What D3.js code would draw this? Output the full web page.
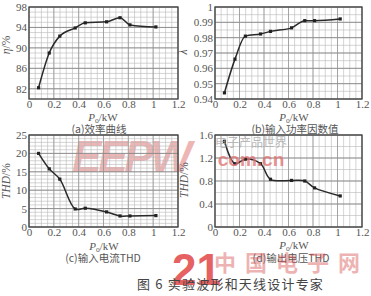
<!DOCTYPE html>
<html>
<head>
<meta charset="utf-8">
<script src="https://cdn.jsdelivr.net/npm/d3@7"></script>
<style>
  body { margin: 0; background: #fff; }
  svg { display: block; }
</style>
</head>
<body>
<svg></svg>
<script>
const svg = d3.select("svg").attr("width", 371).attr("height", 296);

// output power, kW (same test points for all four curves)
const powerKW = [0.077, 0.163, 0.248, 0.372, 0.453, 0.625, 0.733, 0.813, 1.022];
const efficiency = [82.2, 89.0, 92.3, 93.9, 94.9, 95.1, 95.9, 94.5, 94.1];
const powerFactor = [0.944, 0.966, 0.981, 0.9824, 0.9841, 0.9864, 0.9911, 0.9911, 0.9922];
const currentTHD = [20.0, 15.8, 13.0, 4.9, 5.1, 4.1, 3.0, 3.0, 3.1];
const voltageTHD = [1.49, 1.10, 1.18, 1.10, 0.83, 0.81, 0.80, 0.68, 0.54];

const xTicks = [0, 0.2, 0.4, 0.6, 0.8, 1, 1.2];
const etaTicks = [82, 86, 90, 94, 98];
const pfTicks = [0.94, 0.95, 0.96, 0.97, 0.98, 0.99, 1];
const ithdTicks = [0, 5, 10, 15, 20, 25];
const vthdTicks = [0, 0.4, 0.8, 1.2, 1.6];

const serif = "'Liberation Serif', 'DejaVu Serif', serif";
const cjk = "'Noto Sans CJK SC', sans-serif";
const textColor = "#555";

// watermark behind the charts
svg.append("text").attr("x", 72).attr("y", 172)
  .attr("font-family", "'Liberation Sans', sans-serif").attr("font-weight", "bold")
  .attr("font-style", "italic").attr("font-size", 44).attr("fill", "#e89696")
  .attr("opacity", 0.7).attr("textLength", 120).text("EEPW");

const drawPanel = (cfg) => {
  const g = svg.append("g");
  const x = d3.scaleLinear().domain([0, 1.2]).range(cfg.xr);
  const y = d3.scaleLinear().domain(cfg.yd).range(cfg.yr);

  // minor grid
  g.append("g").selectAll("line").data(d3.range(0, 1.2001, 0.05)).join("line")
    .attr("x1", (d) => x(d)).attr("x2", (d) => x(d))
    .attr("y1", cfg.yr[0]).attr("y2", cfg.yr[1])
    .attr("stroke", "#b9b9b9").attr("stroke-width", 0.6);
  g.append("g").selectAll("line")
    .data(d3.range(cfg.yd[0], cfg.yd[1] + cfg.minor / 2, cfg.minor)).join("line")
    .attr("x1", cfg.xr[0]).attr("x2", cfg.xr[1])
    .attr("y1", (d) => y(d)).attr("y2", (d) => y(d))
    .attr("stroke", "#b9b9b9").attr("stroke-width", 0.6);
  // major grid
  g.append("g").selectAll("line").data(cfg.yTicks).join("line")
    .attr("x1", cfg.xr[0]).attr("x2", cfg.xr[1])
    .attr("y1", (d) => y(d)).attr("y2", (d) => y(d))
    .attr("stroke", "#7f7f7f").attr("stroke-width", 0.8);
  g.append("g").selectAll("line").data(xTicks).join("line")
    .attr("x1", (d) => x(d)).attr("x2", (d) => x(d))
    .attr("y1", cfg.yr[0]).attr("y2", cfg.yr[1])
    .attr("stroke", "#8f8f8f").attr("stroke-width", 0.7);

  // frame
  g.append("rect")
    .attr("x", cfg.xr[0]).attr("y", cfg.yr[1])
    .attr("width", cfg.xr[1] - cfg.xr[0]).attr("height", cfg.yr[0] - cfg.yr[1])
    .attr("fill", "none").attr("stroke", "#444").attr("stroke-width", 1.3);

  // axes (labels only)
  const xAxis = g.append("g").attr("transform", `translate(0,${cfg.yr[0]})`)
    .call(d3.axisBottom(x).tickValues(xTicks).tickSize(0).tickPadding(1)
      .tickFormat((d) => String(+d.toFixed(1))));
  const yAxis = g.append("g").attr("transform", `translate(${cfg.xr[0]},0)`)
    .call(d3.axisLeft(y).tickValues(cfg.yTicks).tickSize(0).tickPadding(2)
      .tickFormat((d) => String(+d.toFixed(2))));
  [xAxis, yAxis].forEach((a) => {
    a.select(".domain").remove();
    a.selectAll("text").attr("font-family", serif).attr("font-size", 11)
      .attr("fill", textColor);
  });

  // data
  const pts = powerKW.map((p, i) => [p, cfg.values[i]]);
  g.append("path").datum(pts)
    .attr("d", d3.line().x((d) => x(d[0])).y((d) => y(d[1])).curve(cfg.curve))
    .attr("fill", "none").attr("stroke", "#2a2a2a").attr("stroke-width", 1.5);
  g.append("g").selectAll("rect").data(pts).join("rect")
    .attr("x", (d) => x(d[0]) - 1.6).attr("y", (d) => y(d[1]) - 1.6)
    .attr("width", 3.2).attr("height", 3.2).attr("fill", "#222");

  // x title
  const xt = g.append("text").attr("x", cfg.xt[0]).attr("y", cfg.xt[1])
    .attr("text-anchor", "middle").attr("font-family", serif)
    .attr("font-size", 11).attr("fill", textColor);
  xt.append("tspan").attr("font-style", "italic").text("P");
  xt.append("tspan").attr("font-size", 7.5).attr("dy", 2).text("o");
  xt.append("tspan").attr("dy", -2).text("/kW");

  // y title
  const yt = g.append("text")
    .attr("transform", `translate(${cfg.yt[0]},${cfg.yt[1]}) rotate(-90)`)
    .attr("text-anchor", "middle").attr("font-family", serif)
    .attr("font-size", 11.5).attr("fill", textColor);
  yt.append("tspan").attr("font-style", "italic").text(cfg.yLabel);
  if (cfg.yUnit) yt.append("tspan").text(cfg.yUnit);

  // caption
  g.append("text").attr("x", cfg.cap[0]).attr("y", cfg.cap[1])
    .attr("text-anchor", "middle").attr("font-family", cjk)
    .attr("font-size", 10.5).attr("fill", textColor).text(cfg.caption);
};

drawPanel({
  xr: [29, 178], yr: [99, 7], yd: [80, 98], minor: 1, yTicks: etaTicks,
  values: efficiency, curve: d3.curveMonotoneX,
  xt: [103, 121], yt: [10, 45], yLabel: "η", yUnit: "/%",
  cap: [99, 133], caption: "(a)效率曲线",
});
drawPanel({
  xr: [215, 362], yr: [99, 7], yd: [0.94, 1], minor: 0.005, yTicks: pfTicks,
  values: powerFactor, curve: d3.curveMonotoneX,
  xt: [294, 121], yt: [187, 52], yLabel: "λ", yUnit: "",
  cap: [295, 133], caption: "(b)输入功率因数值",
});
drawPanel({
  xr: [29, 178], yr: [227, 135], yd: [0, 25], minor: 1, yTicks: ithdTicks,
  values: currentTHD, curve: d3.curveCatmullRom,
  xt: [104, 250], yt: [10, 181], yLabel: "THD", yUnit: "/%",
  cap: [103, 262], caption: "(c)输入电流THD",
});
drawPanel({
  xr: [215, 362], yr: [227, 135], yd: [0, 1.6], minor: 0.2, yTicks: vthdTicks,
  values: voltageTHD, curve: d3.curveCatmullRom,
  xt: [294, 249], yt: [188, 180], yLabel: "THD", yUnit: "/%",
  cap: [291, 262], caption: "(d)输出电压THD",
});

// overlaid watermarks
svg.append("text").attr("x", 251).attr("y", 147).attr("text-anchor", "middle")
  .attr("font-family", cjk).attr("font-size", 12).attr("fill", "#aaa")
  .attr("opacity", 0.8).text("电子产品世界");
svg.append("text").attr("x", 251).attr("y", 166).attr("text-anchor", "middle")
  .attr("font-family", "'Liberation Sans', sans-serif").attr("font-weight", "bold")
  .attr("font-size", 19).attr("fill", "#e07070").attr("opacity", 0.75).text("com.cn");
svg.append("text").attr("x", 172).attr("y", 285)
  .attr("font-family", "'Liberation Sans', sans-serif").attr("font-weight", "bold")
  .attr("font-size", 44).attr("fill", "#e03a3a").attr("opacity", 0.8).text("21");
svg.append("text").attr("x", 214).attr("y", 271)
  .attr("font-family", cjk).attr("font-weight", "bold")
  .attr("font-size", 22).attr("fill", "#d85858").attr("opacity", 0.45)
  .attr("textLength", 146).text("中国电子网");

// figure caption
svg.append("text").attr("x", 137).attr("y", 289)
  .attr("font-family", cjk).attr("font-size", 13).attr("fill", "#444")
  .attr("letter-spacing", 1.2).text("图 6   实验波形和天线设计专家");
</script>
</body>
</html>
